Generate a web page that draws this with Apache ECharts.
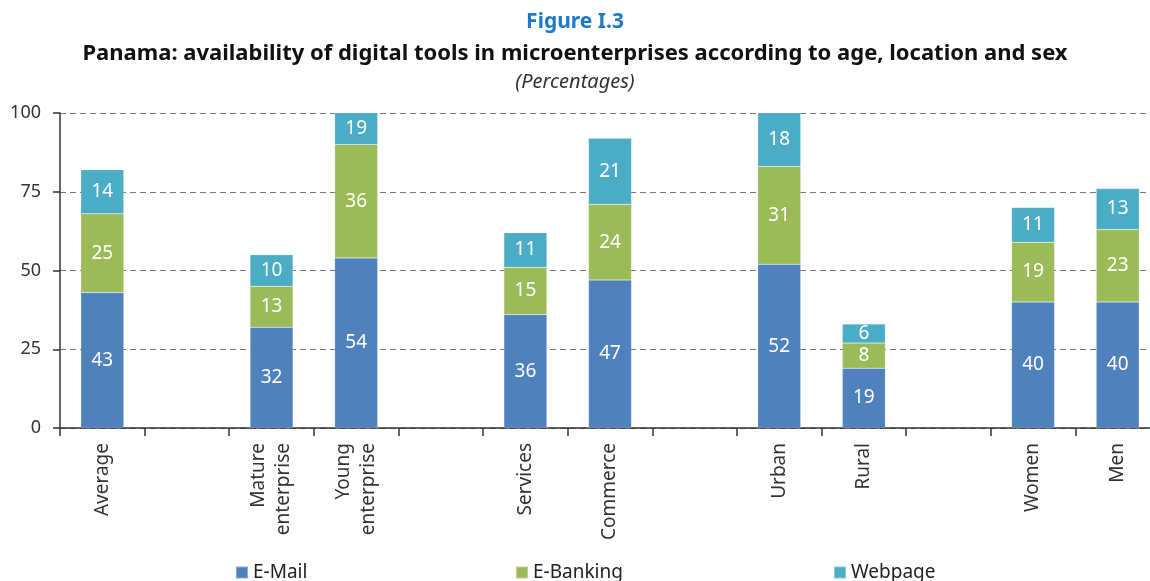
<!DOCTYPE html>
<html><head><meta charset="utf-8">
<script src="https://cdn.jsdelivr.net/npm/echarts@6/dist/echarts.min.js"></script>
<style>html,body{margin:0;padding:0;background:#fff}#c{width:1150px;height:581px}</style>
</head><body><div id="c"></div>
<script>
const categories = ['Average', '', 'Mature\nenterprise', 'Young\nenterprise', '', 'Services', 'Commerce', '', 'Urban', 'Rural', '', 'Women', 'Men'];
const emailValues = [43, null, 32, 54, null, 36, 47, null, 52, 19, null, 40, 40];
const ebankingValues = [25, null, 13, 36, null, 15, 24, null, 31, 8, null, 19, 23];
const webpageValues = [14, null, 10, 19, null, 11, 21, null, 18, 6, null, 11, 13];
const yTicks = [0, 25, 50, 75, 100];

const FONT = 'Noto Sans';
const chart = echarts.init(document.getElementById('c'), null, {renderer: 'canvas'});
const mkSeries = (name, data, color) => ({
  name, type: 'bar', stack: 'total', data, barWidth: 43,
  itemStyle: {color, borderColor: 'rgba(255,255,255,0.35)', borderWidth: 0.5},
  label: {show: true, position: 'inside', color: '#fff', fontSize: 19, fontFamily: FONT,
    formatter: p => p.value == null ? '' : String(p.value)},
  emphasis: {disabled: true}
});
const legendText = {fontSize: 19, color: '#222', fontFamily: FONT};
chart.setOption({
  animation: false,
  textStyle: {fontFamily: FONT},
  title: [
    {text: 'Figure I.3', left: 'center', top: 7, textStyle: {color: '#1a7bcb', fontSize: 21, fontWeight: 'bold', fontFamily: FONT}},
    {text: 'Panama: availability of digital tools in microenterprises according to age, location and sex', left: 'center', top: 38,
      textStyle: {color: '#111', fontSize: 22, fontWeight: 'bold', fontFamily: FONT}},
    {text: '(Percentages)', left: 'center', top: 67, textStyle: {color: '#333', fontSize: 20, fontStyle: 'italic', fontWeight: 'normal', fontFamily: FONT}}
  ],
  legend: [
    {data: ['E-Mail'], left: 230, top: 558, itemWidth: 12, itemHeight: 12, itemGap: 5, icon: 'rect', textStyle: legendText},
    {data: ['E-Banking'], left: 510, top: 558, itemWidth: 12, itemHeight: 12, icon: 'rect', textStyle: legendText},
    {data: ['Webpage'], left: 828, top: 558, itemWidth: 12, itemHeight: 12, icon: 'rect', textStyle: legendText}
  ],
  grid: {left: 60, width: 1100, top: 113, bottom: 153, containLabel: false, outerBoundsMode: 'none'},
  xAxis: {
    type: 'category', data: categories,
    axisLine: {lineStyle: {color: '#333', width: 1.5}},
    axisTick: {show: true, length: 8, interval: 0, alignWithLabel: false, lineStyle: {color: '#333', width: 1.5}},
    axisLabel: {interval: 0, rotate: 90, fontSize: 19, color: '#333', fontFamily: FONT, margin: 15, lineHeight: 25}
  },
  yAxis: {
    type: 'value', min: 0, max: 100, interval: 25,
    axisLine: {show: true, lineStyle: {color: '#333', width: 1.5}},
    axisTick: {show: true, length: 7, lineStyle: {color: '#333', width: 1.5}},
    axisLabel: {fontSize: 18, color: '#333', fontFamily: FONT, margin: 19,
      formatter: v => yTicks.includes(v) ? String(v) : ''},
    splitLine: {show: true, lineStyle: {color: '#777', type: [6, 4], width: 1}}
  },
  series: [
    mkSeries('E-Mail', emailValues, '#4f81bd'),
    mkSeries('E-Banking', ebankingValues, '#9bbb59'),
    mkSeries('Webpage', webpageValues, '#4bacc6')
  ]
});
</script></body></html>
